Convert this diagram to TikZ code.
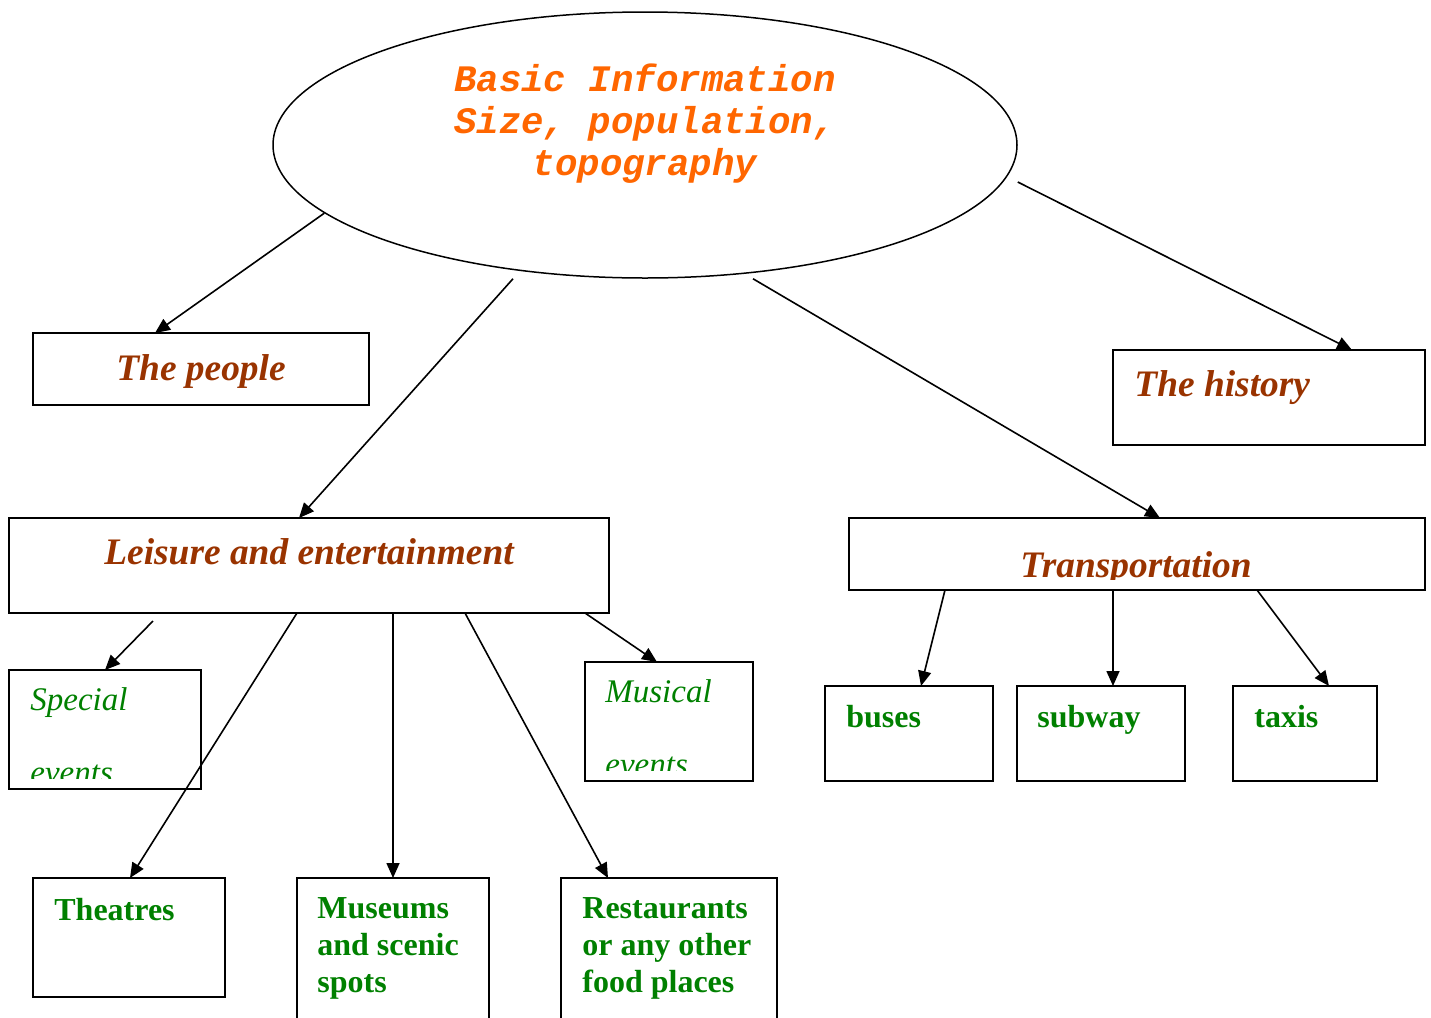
\documentclass[tikz,border=0pt]{standalone}
\usepackage{fontspec}
\setmainfont{Liberation Serif}
\newfontfamily\codefont{Liberation Mono}
\usetikzlibrary{shapes.geometric,arrows.meta}

\definecolor{infoorange}{HTML}{FF6600}
\definecolor{topicbrown}{HTML}{993300}
\definecolor{itemgreen}{HTML}{008000}

\tikzset{
    box/.style={draw, line width=1pt, inner sep=0pt, outer sep=0pt, anchor=north west},
    link/.style={-{Triangle[length=7.5pt,width=6.5pt]}, line width=0.8pt},
    info/.style={font=\codefont\fontsize{18.7}{21}\selectfont\bfseries\itshape, text=infoorange, inner sep=0pt, align=center},
    topic/.style={font=\fontsize{18.7}{21}\selectfont\bfseries\itshape, text=topicbrown, inner sep=0pt},
    item/.style={font=\fontsize{16}{18.5}\selectfont\bfseries, text=itemgreen, inner sep=0pt, anchor=base west, align=left},
    event/.style={font=\fontsize{16.5}{36.5}\selectfont\itshape, text=itemgreen, inner sep=0pt, anchor=base west, align=left}
}

\begin{document}
\begin{tikzpicture}[x=0.5pt, y=-0.5pt]
    \useasboundingbox (0,0) rectangle (1431,1018);

    \node[draw, ellipse, line width=0.75pt, minimum width=372pt, minimum height=133pt] (basic) at (645,145) {};
    \node[info, anchor=base] (basictext) at (645,175) {Basic Information\\Size, population,\\topography};

    \node[box, minimum width=168pt, minimum height=36pt] (people) at (33,333) {};
    \node[box, minimum width=156pt, minimum height=47.5pt] (history) at (1113,350) {};
    \node[box, minimum width=300pt, minimum height=47.5pt] (leisure) at (9,518) {};
    \node[box, minimum width=288pt, minimum height=36pt] (transport) at (849,518) {};
    \node[topic, anchor=base] (peopletext) at (201,380) {The people};
    \node[topic, anchor=base west] (historytext) at (1134,396) {The history};
    \node[topic, anchor=base] (leisuretext) at (309,564) {Leisure and entertainment};
    \begin{scope}
        \clip (transport.north west) rectangle ([yshift=5.5pt]transport.south east);
        \node[topic, anchor=base] (transporttext) at (1136,577) {Transportation};
    \end{scope}

    \node[box, minimum width=96pt, minimum height=59.5pt] (special) at (9,670) {};
    \node[box, minimum width=84pt, minimum height=59.5pt] (musical) at (585,662) {};
    \begin{scope}
        \clip (special.north west) rectangle ([yshift=5.5pt]special.south east);
        \node[event] (specialtext) at (30,783) {Special\\events};
    \end{scope}
    \begin{scope}
        \clip (musical.north west) rectangle ([yshift=5.5pt]musical.south east);
        \node[event] (musicaltext) at (605,775) {Musical\\events};
    \end{scope}

    \node[box, minimum width=96pt, minimum height=59.5pt] (theatres) at (33,878) {};
    \node[box, minimum width=96pt, minimum height=75pt] (museums) at (297,878) {};
    \node[box, minimum width=108pt, minimum height=75pt] (restaurants) at (561,878) {};
    \node[item] (theatrestext) at (54,920) {Theatres};
    \node[item] (museumstext) at (317,992) {Museums\\and scenic\\spots};
    \node[item] (restaurantstext) at (582,992) {Restaurants\\or any other\\food places};

    \node[box, minimum width=84pt, minimum height=47.5pt] (buses) at (825,686) {};
    \node[box, minimum width=84pt, minimum height=47.5pt] (subway) at (1017,686) {};
    \node[box, minimum width=72pt, minimum height=47.5pt] (taxis) at (1233,686) {};
    \node[item] (busestext) at (846,727) {buses};
    \node[item] (subwaytext) at (1037,727) {subway};
    \node[item] (taxistext) at (1254,727) {taxis};

    \draw[link] (basic.192) -- ([xshift=61pt]people.north west);
    \draw[link] ([xshift=-66pt]basic.south) -- ([xshift=145pt]leisure.north west);
    \draw[link] ([xshift=54pt]basic.south) -- ([xshift=155.5pt]transport.north west);
    \draw[link] ([yshift=-18.5pt]basic.east) -- ([xshift=119.5pt]history.north west);

    \draw[link] ([xshift=72pt, yshift=-4pt]leisure.south west) -- ([xshift=48pt]special.north west);
    \draw[link] ([xshift=144pt]leisure.south west) -- ([xshift=48.5pt]theatres.north west);
    \draw[link] ([xshift=192pt]leisure.south west) -- (museums.north);
    \draw[link] ([xshift=228pt]leisure.south west) -- ([xshift=23.5pt]restaurants.north west);
    \draw[link] ([xshift=288pt]leisure.south west) -- ([xshift=36pt]musical.north west);

    \draw[link] ([xshift=48pt]transport.south west) -- ([xshift=48pt]buses.north west);
    \draw[link] ([xshift=132pt]transport.south west) -- ([xshift=48pt]subway.north west);
    \draw[link] ([xshift=204pt]transport.south west) -- ([xshift=48pt]taxis.north west);
\end{tikzpicture}
\end{document}
